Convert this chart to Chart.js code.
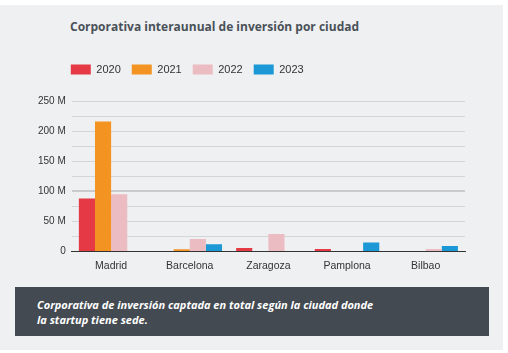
<!DOCTYPE html>
<html lang="es">
<head>
<meta charset="UTF-8">
<title>Corporativa interaunual de inversión por ciudad</title>
<script src="https://cdn.jsdelivr.net/npm/chart.js"></script>
<style>
    html, body { margin: 0; padding: 0; background: #fff; }
    .panel { position: absolute; left: 0; top: 5px; width: 503px; height: 345px; background: #eff0f2; }
    .title { position: absolute; left: 70px; top: 18px; font: 700 12px "Open Sans", sans-serif; color: #4a5158; white-space: nowrap; }
    .chart-box { position: absolute; left: 0; top: 45px; width: 508px; height: 235px; }
    .caption { position: absolute; left: 15px; top: 287px; width: 474px; height: 49px; background: #434a51; box-sizing: border-box; padding: 10px 0 0 22px; color: #fff; font: italic 700 11px "Open Sans", sans-serif; line-height: 15px; }
</style>
</head>
<body>
<div class="panel"></div>
<div class="title">Corporativa interaunual de inversión por ciudad</div>
<div class="chart-box"><canvas id="chart"></canvas></div>
<div class="caption">Corporativa de inversión captada en total según la ciudad donde<br>la startup tiene sede.</div>

<script>
    const cities = ['Madrid', 'Barcelona', 'Zaragoza', 'Pamplona', 'Bilbao'];
    const years = ['2020', '2021', '2022', '2023'];
    // millones de euros
    const v2020 = [88, 0, 5.5, 4, 0];
    const v2021 = [216, 3.5, 0, 0, 0];
    const v2022 = [95, 20.5, 29, 0, 4];
    const v2023 = [0, 12, 0, 15, 9];
    const colors = ['#e63946', '#f39322', '#ebbcc1', '#1b98d5'];

    const series = [v2020, v2021, v2022, v2023];

    // extra space under the legend, and pull it a bit to the left
    const legendTweak = {
        id: 'legendTweak',
        beforeInit(chart) {
            const fit = chart.legend.fit;
            chart.legend.fit = function () { fit.bind(chart.legend)(); this.height += 16; };
        },
        afterLayout(chart) {
            chart.legend.left -= 12;
            chart.legend.right -= 12;
        }
    };

    new Chart(document.getElementById('chart').getContext('2d'), {
        type: 'bar',
        data: {
            labels: cities,
            datasets: years.map((y, i) => ({ label: y, data: series[i], backgroundColor: colors[i], borderWidth: 0 }))
        },
        options: {
            responsive: true,
            maintainAspectRatio: false,
            animation: false,
            datasets: { bar: { barPercentage: 1, categoryPercentage: 0.82 } },
            layout: { padding: { left: 32, right: 43, top: 8, bottom: 8 } },
            plugins: {
                legend: {
                    position: 'top',
                    align: 'start',
                    fullSize: false,
                    labels: { boxWidth: 20, boxHeight: 10, padding: 11, color: '#333', font: { family: 'Liberation Sans', size: 11 } }
                },
                tooltip: { enabled: false }
            },
            scales: {
                x: {
                    grid: { display: false },
                    border: { display: true, color: '#333', width: 1 },
                    ticks: { color: '#333', font: { family: 'Liberation Sans', size: 10.5 }, padding: 0 }
                },
                y: {
                    min: 0,
                    max: 250,
                    border: { display: false },
                    grid: {
                        drawTicks: false,
                        color: ctx => ctx.tick.value === 100 ? '#c9cacc' : '#d4d5d7',
                        lineWidth: ctx => ctx.tick.value === 100 ? 2 : 1
                    },
                    ticks: {
                        stepSize: 25,
                        padding: 6,
                        color: '#333',
                        font: { family: 'Liberation Sans', size: 10 },
                        callback: v => v % 50 !== 0 ? '' : (v === 0 ? '0' : v + ' M')
                    }
                }
            }
        },
        plugins: [legendTweak]
    });
</script>
</body>
</html>
